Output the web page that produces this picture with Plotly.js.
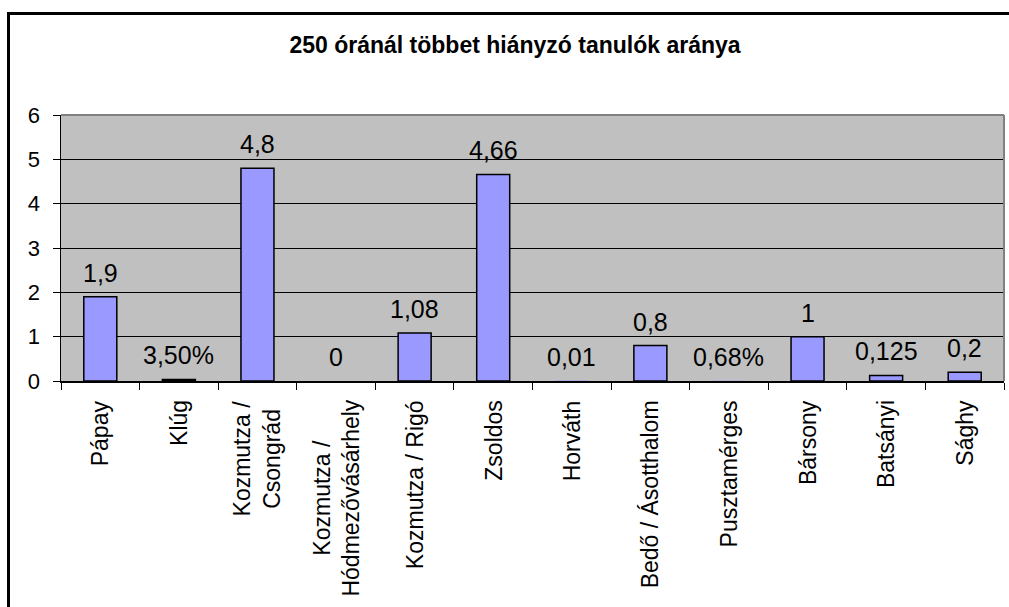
<!DOCTYPE html>
<html>
<head>
<meta charset="utf-8">
<script src="https://cdn.plot.ly/plotly-3.0.1.min.js"></script>
<style>
  html, body { margin: 0; padding: 0; background: #fff; }
  #wrap { position: relative; width: 1009px; height: 607px; overflow: hidden; }
  #chart { position: absolute; left: 0; top: 0; width: 1009px; height: 607px; }
  #frame { position: absolute; left: 7px; top: 12px; width: 1100px; height: 700px;
           border-left: 3px solid #000; border-top: 3px solid #000; pointer-events: none; }
</style>
</head>
<body>
<div id="wrap">
  <div id="chart"></div>
  <div id="frame"></div>
</div>
<script>
const titleText = "250 óránál többet hiányzó tanulók aránya";
const categories = [
  "Pápay", "Klúg", "Kozmutza /<br>Csongrád", "Kozmutza /<br>Hódmezővásárhely",
  "Kozmutza / Rigó", "Zsoldos", "Horváth", "Bedő / Ásotthalom",
  "Pusztamérges", "Bársony", "Batsányi", "Sághy"
];
const values = [1.9, 0.035, 4.8, 0, 1.08, 4.66, 0.01, 0.8, 0.0068, 1, 0.125, 0.2];
const valueLabels = ["1,9", "3,50%", "4,8", "0", "1,08", "4,66", "0,01", "0,8", "0,68%", "1", "0,125", "0,2"];
const yTicks = [0, 1, 2, 3, 4, 5, 6];

const FONT = "Liberation Sans, Arial, sans-serif";

// bars thinner than about one pixel show no outline in the original
const outlineWidths = values.map(v => (v * 44.3 >= 1 ? 1.5 : 0));

const trace = {
  type: "bar",
  x: categories,
  y: values,
  width: 0.42,
  marker: { color: "#9999FF", line: { color: "#000000", width: outlineWidths } },
  hoverinfo: "none"
};

const valueAnnotations = categories.map((c, i) => ({
  x: c, y: values[i], xref: "x", yref: "y",
  text: valueLabels[i], showarrow: false,
  yanchor: "bottom", yshift: 8,
  font: { family: FONT, size: 25, color: "#000" }
}));

// category labels: rotated, multi-line labels centred on each other
const categoryAnnotations = categories.map(c => ({
  x: c, y: 0, xref: "x", yref: "paper",
  text: c, showarrow: false, textangle: -90,
  xanchor: "center", yanchor: "top", yshift: -17, align: "center",
  font: { family: FONT, size: 23, color: "#000" }
}));

const layout = {
  width: 1009, height: 607,
  margin: { l: 61, r: 5, t: 115, b: 226 },
  paper_bgcolor: "#FFFFFF",
  plot_bgcolor: "#C0C0C0",
  showlegend: false,
  font: { family: FONT, color: "#000" },
  title: {
    text: "<b>" + titleText + "</b>",
    font: { family: FONT, size: 23, color: "#000" },
    xref: "container", x: 515 / 1009, xanchor: "center",
    yref: "container", y: 1 - 45 / 607, yanchor: "middle"
  },
  xaxis: {
    type: "category",
    tickson: "boundaries",
    ticks: "outside", ticklen: 7, tickcolor: "#000", tickwidth: 1,
    showticklabels: false,
    showline: true, linecolor: "#000", linewidth: 1.5,
    showgrid: false, zeroline: false,
    range: [-0.5, 11.5], fixedrange: true
  },
  yaxis: {
    range: [0, 6],
    tickvals: yTicks, ticktext: yTicks.map(String),
    ticks: "outside", ticklen: 7, tickcolor: "#000", tickwidth: 1,
    ticklabelstandoff: 8,
    tickfont: { family: FONT, size: 22, color: "#000" },
    showline: true, linecolor: "#000", linewidth: 1.5,
    showgrid: true, gridcolor: "#000", gridwidth: 1,
    zeroline: false, fixedrange: true
  },
  shapes: [
    { type: "line", xref: "paper", yref: "paper", x0: 0, x1: 1, y0: 1, y1: 1,
      line: { color: "#808080", width: 2 } },
    { type: "line", xref: "paper", yref: "paper", x0: 1, x1: 1, y0: 0, y1: 1,
      line: { color: "#808080", width: 2 } }
  ],
  annotations: valueAnnotations.concat(categoryAnnotations)
};

Plotly.newPlot("chart", [trace], layout, { displayModeBar: false, staticPlot: true });
</script>
</body>
</html>
